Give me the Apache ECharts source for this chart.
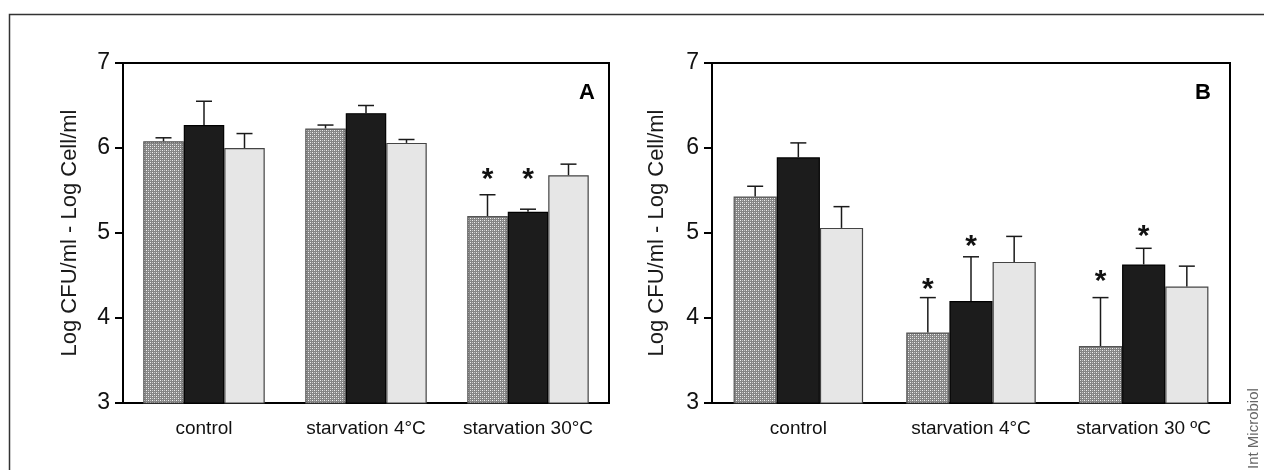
<!DOCTYPE html>
<html>
<head>
    <meta charset="utf-8">
    <script src="https://cdn.jsdelivr.net/npm/echarts@6/dist/echarts.min.js"></script>
    <style>
        html, body { margin: 0; padding: 0; background: #fff; }
    </style>
</head>
<body>
<div id="chart" style="width: 1264px; height: 470px;"></div>
<script type="text/javascript">
    // Data
    var categoriesA = ['control', 'starvation 4°C', 'starvation 30°C'];
    var categoriesB = ['control', 'starvation 4°C', 'starvation 30 ºC'];

    // panel A: means and upper error (SD)
    var hatchedA = [6.08, 6.23, 5.20];
    var hatchedSdA = [0.04, 0.04, 0.25];
    var blackA = [6.27, 6.41, 5.25];
    var blackSdA = [0.28, 0.09, 0.03];
    var lightA = [6.00, 6.06, 5.68];
    var lightSdA = [0.17, 0.04, 0.13];

    // panel B
    var hatchedB = [5.43, 3.83, 3.67];
    var hatchedSdB = [0.12, 0.41, 0.57];
    var blackB = [5.89, 4.20, 4.63];
    var blackSdB = [0.17, 0.52, 0.19];
    var lightB = [5.06, 4.66, 4.37];
    var lightSdB = [0.25, 0.30, 0.24];

    // significance stars (height in axis units, null = none)
    var starsHatchedA = [null, null, 5.71];
    var starsBlackA = [null, null, 5.71];
    var starsHatchedB = [null, 4.41, 4.51];
    var starsBlackB = [null, 4.92, 5.04];

    var yTicks = [3, 7, 1]; // min, max, interval

    // crosshatch fill
    var pat = document.createElement('canvas');
    pat.width = 4; pat.height = 4;
    var ctx = pat.getContext('2d');
    ctx.fillStyle = '#858585';
    ctx.fillRect(0, 0, 4, 4);
    ctx.fillStyle = '#f0f0f0';
    ctx.fillRect(0, 0, 1, 1);
    ctx.fillRect(2, 2, 1, 1);
    ctx.fillStyle = '#c4c4c4';
    ctx.fillRect(2, 0, 1, 1);
    ctx.fillRect(0, 2, 1, 1);

    var FONT = 'Liberation Sans, Arial, sans-serif';

    function errorData(series) {
        // series: list of [means, sds, stars]
        var out = [];
        series.forEach(function (s, k) {
            s[0].forEach(function (m, i) {
                var star = s[2] && s[2][i] != null ? s[2][i] : '-';
                out.push([i, k, m + s[1][i], m, star]);
            });
        });
        return out;
    }

    function renderError(params, api) {
        var cat = api.value(0), k = api.value(1);
        var top = api.value(2), mean = api.value(3), star = api.value(4);
        var band = api.size([1, 0])[0];
        var bw = band * 0.75 / 3;
        var pTop = api.coord([cat, top]);
        var pMean = api.coord([cat, mean]);
        var x = pTop[0] + (k - 1) * bw;
        var children = [
            { type: 'line', shape: { x1: x, y1: pMean[1], x2: x, y2: pTop[1] },
              style: { stroke: '#1a1a1a', lineWidth: 1.5 } },
            { type: 'line', shape: { x1: x - 8, y1: pTop[1], x2: x + 8, y2: pTop[1] },
              style: { stroke: '#1a1a1a', lineWidth: 1.5 } }
        ];
        if (!isNaN(star)) {
            var ps = api.coord([cat, star]);
            children.push({
                type: 'text',
                style: { text: '*', x: x, y: ps[1] + 7, font: 'bold 30px ' + FONT,
                         align: 'center', verticalAlign: 'middle', fill: '#111' }
            });
        }
        return { type: 'group', children: children };
    }

    function yAxis(gridIndex, nameGap) {
        return {
            type: 'value', gridIndex: gridIndex,
            min: yTicks[0], max: yTicks[1], interval: yTicks[2],
            name: 'Log CFU/ml - Log Cell/ml', nameLocation: 'middle', nameGap: nameGap,
            nameTextStyle: { fontFamily: FONT, fontSize: 22, color: '#1a1a1a' },
            axisLine: { show: true, lineStyle: { color: '#000', width: 2 } },
            axisTick: { show: true, length: 8, lineStyle: { color: '#000', width: 2 } },
            axisLabel: { fontFamily: FONT, fontSize: 23, color: '#111', margin: 13 },
            splitLine: { show: false }
        };
    }

    function xAxis(gridIndex, cats) {
        return {
            type: 'category', gridIndex: gridIndex, data: cats,
            axisLine: { lineStyle: { color: '#000', width: 2 } },
            axisTick: { length: 7, lineStyle: { color: '#000', width: 2 } },
            axisLabel: { fontFamily: FONT, fontSize: 19, color: '#111', margin: 16,
                         interval: 0, hideOverlap: false }
        };
    }

    function bars(idx, data, color, border) {
        return {
            type: 'bar', xAxisIndex: idx, yAxisIndex: idx, data: data,
            barGap: '0%', barCategoryGap: '25%',
            itemStyle: { color: color, borderColor: border, borderWidth: 1.2 },
            silent: true
        };
    }

    var chart = echarts.init(document.getElementById('chart'));
    var option = {
        animation: false,
        backgroundColor: '#fff',
        grid: [
            { left: 123, right: 655, top: 63, bottom: 67, show: true, borderColor: '#000', borderWidth: 2 },
            { left: 712, right: 34, top: 63, bottom: 67, show: true, borderColor: '#000', borderWidth: 2 }
        ],
        xAxis: [xAxis(0, categoriesA), xAxis(1, categoriesB)],
        yAxis: [yAxis(0, 42), yAxis(1, 44)],
        graphic: [
            { type: 'polyline', shape: { points: [[9.5, 470], [9.5, 14.5], [1264, 14.5]] },
              style: { stroke: '#333', lineWidth: 1.5, fill: null }, silent: true },
            { type: 'text', x: 587, y: 93, style: { text: 'A', font: 'bold 22px ' + FONT,
              align: 'center', verticalAlign: 'middle', fill: '#000' } },
            { type: 'text', x: 1203, y: 93, style: { text: 'B', font: 'bold 22px ' + FONT,
              align: 'center', verticalAlign: 'middle', fill: '#000' } },
            { type: 'text', x: 1254, y: 469, rotation: Math.PI / 2,
              style: { text: 'Int Microbiol', font: '15px ' + FONT, align: 'left',
                       verticalAlign: 'middle', fill: '#666' } }
        ],
        series: [
            bars(0, hatchedA, { image: pat, repeat: 'repeat' }, '#555'),
            bars(0, blackA, '#1c1c1c', '#000'),
            bars(0, lightA, '#e6e6e6', '#444'),
            bars(1, hatchedB, { image: pat, repeat: 'repeat' }, '#555'),
            bars(1, blackB, '#1c1c1c', '#000'),
            bars(1, lightB, '#e6e6e6', '#444'),
            {
                type: 'custom', xAxisIndex: 0, yAxisIndex: 0, silent: true, z: 5,
                renderItem: renderError,
                data: errorData([[hatchedA, hatchedSdA, starsHatchedA], [blackA, blackSdA, starsBlackA], [lightA, lightSdA, null]])
            },
            {
                type: 'custom', xAxisIndex: 1, yAxisIndex: 1, silent: true, z: 5,
                renderItem: renderError,
                data: errorData([[hatchedB, hatchedSdB, starsHatchedB], [blackB, blackSdB, starsBlackB], [lightB, lightSdB, null]])
            }
        ]
    };
    chart.setOption(option);
</script>
</body>
</html>
